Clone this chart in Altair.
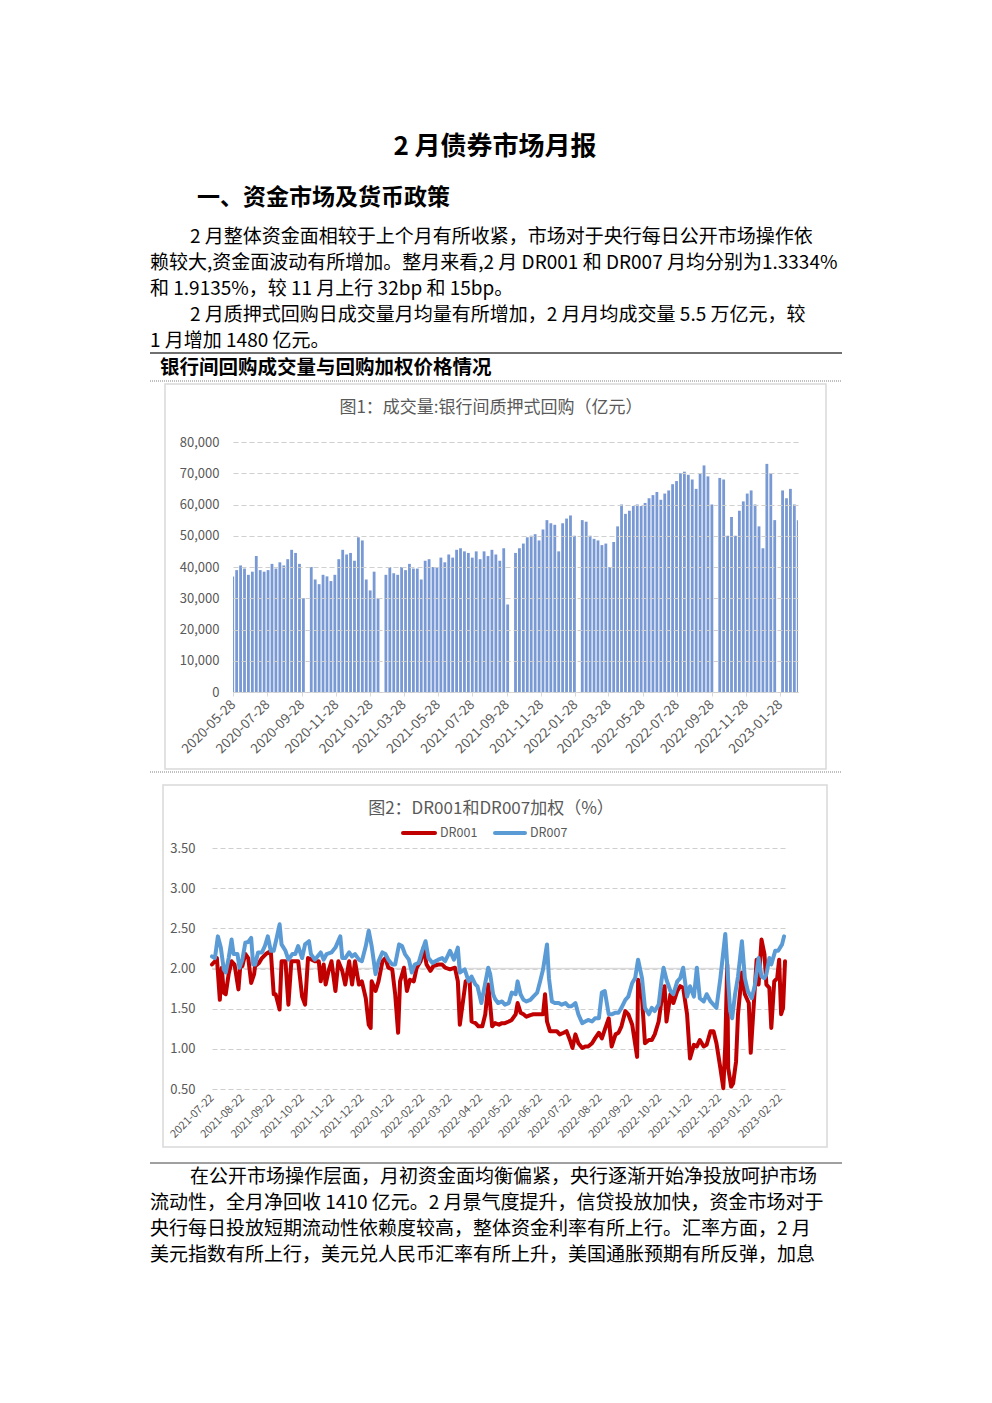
import altair as alt
import pandas as pd

FONT = "Noto Sans CJK SC"
GREY = "#595959"

# ---------------- text content ----------------
page_title = "2 月债券市场月报"
section_title = "一、资金市场及货币政策"
para1 = [
    "2 月整体资金面相较于上个月有所收紧，市场对于央行每日公开市场操作依",
    "赖较大,资金面波动有所增加。整月来看,2 月 DR001 和 DR007 月均分别为1.3334%",
    "和 1.9135%，较 11 月上行 32bp 和 15bp。",
    "2 月质押式回购日成交量月均量有所增加，2 月月均成交量 5.5 万亿元，较",
    "1 月增加 1480 亿元。",
]
box_heading = "银行间回购成交量与回购加权价格情况"
chart1_title = "图1：成交量:银行间质押式回购（亿元）"
chart2_title = "图2：DR001和DR007加权（%）"
series_names = ["DR001", "DR007"]
para2 = [
    "在公开市场操作层面，月初资金面均衡偏紧，央行逐渐开始净投放呵护市场",
    "流动性，全月净回收 1410 亿元。2 月景气度提升，信贷投放加快，资金市场对于",
    "央行每日投放短期流动性依赖度较高，整体资金利率有所上行。汇率方面，2 月",
    "美元指数有所上行，美元兑人民币汇率有所上升，美国通胀预期有所反弹，加息",
]

# ---------------- chart 1 data: weekly repo volume (亿元), weeks from 2020-05-25 ----------------
repo_volume = [
    37000, 39000, 40500, 39500, 37500, 38500, 43500, 39000, 38500, 39000,
    41000, 39500, 41500, 40500, 42500, 45500, 44500, 41000, 30000, None,
    40000, 36000, 34500, 37500, 37000, 35500, 37500, 42500, 45500, 44000,
    44500, 42000, 49500, 48500, 36000, 32500, 38500, 30000, None, 37500,
    40000, 38000, 37500, 40000, 39000, 41000, 39500, 39500, 36000, 42000,
    42500, 40000, 40000, 43000, 41500, 44000, 43000, 45500, 46000, 45000,
    44500, 43000, 45000, 42500, 45000, 43500, 45500, 44000, 42000, 46000,
    28000, None, 44500, 46000, 47500, 49500, 50000, 50500, 48500, 52000,
    55000, 54000, 53500, 45000, 54000, 55500, 56500, 50000, None, 55000,
    54500, 50000, 49000, 48500, 47000, 47500, 40000, 48000, 53000, 60000,
    57000, 58000, 59500, 60000, 59500, 60500, 62000, 63000, 64000, 61500,
    63500, 64500, 66500, 67500, 70000, 70500, 69500, 68000, 65000, 70000,
    72500, 69000, 60000, None, 68500, 68000, 50000, 56000, 50000, 58000,
    61000, 63500, 64500, 60000, 53000, 46000, 73000, 70000, 55000, None,
    64500, 62000, 65000, 60000, 55000,
]
volume_ticks = [0, 10000, 20000, 30000, 40000, 50000, 60000, 70000, 80000]
chart1_dates = ["2020-05-28", "2020-07-28", "2020-09-28", "2020-11-28", "2021-01-28",
                "2021-03-28", "2021-05-28", "2021-07-28", "2021-09-28", "2021-11-28",
                "2022-01-28", "2022-03-28", "2022-05-28", "2022-07-28", "2022-09-28",
                "2022-11-28", "2023-01-28"]

# ---------------- chart 2 data: day offsets from 2021-07-22 ----------------
dr001_day = [0, 3, 5, 8, 10, 12, 14, 17, 20, 23, 27, 29, 31, 34, 37, 40, 43, 44, 48, 51,
             55, 60, 63, 65, 69, 71, 75, 78, 81, 85, 88, 92, 95, 98, 102, 105, 109, 111, 114, 116,
             119, 122, 126, 129, 133, 136, 140, 143, 146, 150, 153, 157, 160, 162, 163, 167, 170, 174, 177, 180,
             184, 187, 190, 192, 196, 199, 202, 206, 209, 213, 216, 219, 223, 226, 231, 235, 238, 243, 248, 251,
             253, 256, 259, 263, 265, 269, 272, 276, 279, 282, 284, 286, 289, 293, 296, 299, 303, 306, 310, 312,
             315, 318, 321, 325, 328, 332, 335, 338, 340, 342, 345, 349, 352, 355, 359, 362, 366, 368, 371, 374,
             378, 381, 384, 388, 391, 395, 398, 401, 405, 408, 412, 415, 418, 422, 425, 429, 434, 435, 439, 442,
             446, 449, 452, 456, 459, 462, 464, 468, 471, 475, 478, 481, 485, 488, 492, 495, 498, 502, 505, 509,
             512, 515, 519, 522, 524, 526, 527, 530, 532, 535, 537, 541, 544, 548, 550, 553, 556, 558, 561, 564,
             566, 569, 571, 574, 577, 579, 581, 583, 585]
dr001 = [2.05, 2.09, 2.13, 1.61, 2.01, 1.70, 1.68, 1.93, 2.09, 2.05, 1.74, 2.05, 2.03, 2.18, 2.13, 1.82, 1.93, 2.03, 2.07, 2.13,
         2.18, 2.22, 1.68, 1.68, 1.49, 2.09, 2.09, 1.55, 2.09, 2.09, 2.09, 1.65, 1.55, 2.13, 2.11, 2.09, 2.09, 1.84, 2.05, 1.80,
         1.97, 2.09, 1.72, 2.09, 1.97, 1.80, 2.09, 1.80, 2.09, 1.80, 1.84, 1.63, 1.30, 1.26, 1.84, 1.72, 1.84, 2.09, 2.13, 2.01,
         1.99, 1.68, 1.20, 1.84, 2.01, 1.72, 1.86, 1.84, 2.01, 2.09, 2.26, 2.05, 1.97, 2.03, 2.05, 2.05, 2.01, 1.99, 2.01, 1.84,
         1.30, 1.57, 1.84, 1.86, 1.34, 1.32, 1.28, 1.28, 1.43, 1.80, 1.55, 1.28, 1.32, 1.30, 1.32, 1.32, 1.34, 1.36, 1.43, 1.57,
         1.45, 1.43, 1.40, 1.42, 1.43, 1.43, 1.43, 1.43, 1.68, 1.34, 1.22, 1.22, 1.22, 1.18, 1.20, 1.22, 1.09, 1.01, 1.18, 1.07,
         1.01, 1.03, 1.03, 1.07, 1.13, 1.20, 1.13, 1.24, 1.38, 1.03, 1.18, 1.20, 1.28, 1.47, 1.43, 1.30, 0.90, 1.86, 1.63, 1.07,
         1.11, 1.11, 1.18, 1.34, 1.61, 1.78, 1.34, 1.68, 1.57, 1.72, 1.78, 1.76, 1.43, 0.88, 1.05, 1.03, 1.11, 1.03, 1.05, 1.22,
         1.22, 1.07, 0.76, 0.51, 1.05, 2.05, 0.76, 0.53, 0.57, 0.84, 1.43, 1.95, 1.68, 1.57, 0.95, 1.53, 2.11, 1.80, 2.36, 2.18,
         1.80, 1.76, 1.26, 1.84, 1.88, 2.11, 1.43, 1.51, 2.09]
dr007_day = [0, 3, 6, 9, 12, 14, 17, 20, 22, 26, 28, 31, 34, 37, 40, 42, 44, 47, 51, 54,
             57, 60, 63, 66, 69, 71, 75, 78, 82, 85, 88, 92, 95, 99, 101, 105, 111, 114, 117, 122,
             126, 131, 133, 136, 140, 143, 146, 150, 153, 157, 160, 163, 167, 170, 174, 177, 180, 184, 187, 191,
             194, 197, 201, 204, 207, 211, 214, 218, 221, 225, 228, 231, 235, 238, 243, 247, 251, 253, 258, 262,
             265, 269, 271, 275, 278, 282, 284, 287, 289, 292, 296, 299, 303, 306, 310, 312, 315, 318, 321, 325,
             328, 332, 335, 338, 342, 344, 347, 350, 354, 357, 361, 364, 367, 371, 374, 378, 381, 384, 388, 391,
             395, 398, 401, 405, 408, 412, 415, 418, 422, 425, 429, 432, 435, 439, 442, 446, 449, 452, 456, 459,
             461, 464, 468, 471, 475, 478, 481, 485, 488, 492, 495, 498, 502, 505, 509, 512, 515, 519, 524, 527,
             529, 531, 534, 537, 541, 544, 547, 551, 554, 558, 561, 564, 566, 569, 571, 575, 578, 582, 584]
dr007 = [2.15, 2.13, 2.40, 2.26, 1.99, 1.95, 2.13, 2.36, 2.18, 2.18, 2.01, 2.11, 2.32, 2.33, 2.38, 2.05, 2.05, 2.20, 2.20, 2.28,
         2.40, 2.22, 2.22, 2.38, 2.55, 2.30, 2.22, 2.11, 2.18, 2.18, 2.28, 2.13, 2.30, 2.34, 2.18, 2.11, 2.20, 2.11, 2.18, 2.20,
         2.26, 2.40, 2.13, 2.13, 2.20, 2.15, 2.18, 2.11, 2.09, 2.28, 2.47, 2.28, 1.93, 2.09, 2.20, 2.18, 2.11, 2.05, 2.05, 2.30,
         2.28, 2.18, 2.11, 1.95, 2.05, 2.07, 2.20, 2.34, 2.13, 2.07, 2.09, 2.11, 2.13, 2.09, 2.22, 2.11, 2.26, 1.95, 1.99, 1.84,
         1.90, 1.80, 1.78, 1.57, 1.76, 2.01, 1.93, 1.68, 1.62, 1.57, 1.59, 1.55, 1.57, 1.70, 1.68, 1.84, 1.68, 1.61, 1.59, 1.61,
         1.65, 1.70, 1.84, 1.99, 2.30, 1.88, 1.59, 1.57, 1.57, 1.55, 1.57, 1.53, 1.53, 1.57, 1.43, 1.32, 1.34, 1.36, 1.34, 1.38,
         1.38, 1.70, 1.72, 1.43, 1.43, 1.45, 1.45, 1.51, 1.61, 1.65, 1.82, 1.88, 2.11, 1.88, 1.51, 1.43, 1.51, 1.47, 1.55, 1.86,
         2.01, 1.86, 1.72, 1.68, 1.84, 1.88, 2.01, 1.65, 1.78, 1.65, 2.01, 1.63, 1.59, 1.68, 1.59, 1.55, 1.51, 1.88, 2.43, 1.84,
         1.47, 1.38, 1.68, 1.90, 2.34, 1.88, 1.72, 1.63, 1.78, 2.13, 1.90, 1.88, 1.93, 2.13, 2.05, 2.22, 2.22, 2.30, 2.40]
rate_ticks = [0.5, 1.0, 1.5, 2.0, 2.5, 3.0, 3.5]
chart2_dates = ["2021-07-22", "2021-08-22", "2021-09-22", "2021-10-22", "2021-11-22",
                "2021-12-22", "2022-01-22", "2022-02-22", "2022-03-22", "2022-04-22",
                "2022-05-22", "2022-06-22", "2022-07-22", "2022-08-22", "2022-09-22",
                "2022-10-22", "2022-11-22", "2022-12-22", "2023-01-22", "2023-02-22"]


def dt(s):
    y, m, d = (int(p) for p in s.split("-"))
    return alt.DateTime(year=y, month=m, date=d, utc=True)


one = pd.DataFrame({"a": [0]})


def text_layer(s, x, y, size, weight="normal", align="left", color="#000000"):
    return alt.Chart(pd.DataFrame({"t": [s]})).mark_text(
        font=FONT, fontSize=size, fontWeight=weight, align=align,
        baseline="middle", color=color
    ).encode(text="t:N", x=alt.value(x), y=alt.value(y))


def hrule(x1, x2, y, color, width, dash=None, cap="butt"):
    kw = dict(color=color, strokeWidth=width, strokeCap=cap)
    if dash:
        kw["strokeDash"] = dash
    return alt.Chart(one).mark_rule(**kw).encode(
        x=alt.value(x1), x2=alt.value(x2), y=alt.value(y))


def box(x1, x2, y1, y2):
    return alt.Chart(one).mark_rect(filled=False, stroke="#d9d9d9", strokeWidth=1.5).encode(
        x=alt.value(x1), x2=alt.value(x2), y=alt.value(y1), y2=alt.value(y2))


layers = []
# frames and separators
layers += [
    box(165, 826, 384, 769),
    box(163, 827, 785, 1147),
    hrule(150, 842, 353, "#404040", 1.5),
    hrule(150, 842, 381, "#808080", 1, [1, 1]),
    hrule(150, 842, 772, "#808080", 1, [1, 1]),
    hrule(150, 842, 1163, "#404040", 1),
]
# page text
layers.append(text_layer(page_title, 495, 147, 26, "bold", "center"))
layers.append(text_layer(section_title, 197, 198, 23, "bold"))
for i, line in enumerate(para1):
    indent = 190 if i in (0, 3) else 150
    layers.append(text_layer(line, indent, 237 + 26 * i, 19))
layers.append(text_layer(box_heading, 160, 368, 19.5, "bold"))
for i, line in enumerate(para2):
    indent = 190 if i == 0 else 150
    layers.append(text_layer(line, indent, 1177 + 26 * i, 19))
# chart titles and legend
layers.append(text_layer(chart1_title, 491, 408, 17, "normal", "center", GREY))
layers.append(text_layer(chart2_title, 491, 809, 17, "normal", "center", GREY))
layers.append(hrule(403, 435, 833, "#C00000", 4, cap="round"))
layers.append(text_layer(series_names[0], 440, 833, 12.5, "normal", "left", GREY))
layers.append(hrule(495, 525, 833, "#5B9BD5", 4, cap="round"))
layers.append(text_layer(series_names[1], 530, 833, 12.5, "normal", "left", GREY))

# ---------------- chart 1: bars ----------------
weeks = pd.date_range("2020-05-25", periods=len(repo_volume), freq="7D")
first_day, last_day = pd.Timestamp("2020-05-28"), pd.Timestamp("2023-03-01")
bar_df = pd.DataFrame({
    "start": [max(w, first_day).strftime("%Y-%m-%d") for w in weeks],
    "end": [min(w + pd.Timedelta(days=5), last_day).strftime("%Y-%m-%d") for w in weeks],
    "value": repo_volume,
}).dropna()
bar_df["base"] = 0

x1_scale = alt.Scale(type="utc", domain=[dt("2020-05-28"), dt("2023-03-01")], range=[233, 798])
y1_scale = alt.Scale(domain=[0, 80000], range=[692, 442], nice=False, padding=0)

bars = alt.Chart(bar_df).mark_rect(color="#4472C4", opacity=0.72).encode(
    x=alt.X("start:T", scale=x1_scale, axis=alt.Axis(
        orient="bottom", offset=-711, values=[dt(s) for s in chart1_dates],
        labelExpr="utcFormat(datum.value, '%Y-%m-%d')", labelAngle=315,
        labelAlign="right", labelBaseline="middle", labelPadding=6,
        labelFont=FONT, labelFontSize=13.5, labelColor=GREY, labelOverlap=False,
        domain=True, domainColor="#d9d9d9", ticks=True, tickColor="#d9d9d9", tickSize=4,
        grid=False, title=None)),
    x2="end:T",
    y=alt.Y("value:Q", scale=y1_scale, axis=alt.Axis(
        orient="left", offset=-233, values=volume_ticks,
        labelExpr="format(datum.value, ',')",
        labelPadding=14, labelFont=FONT, labelFontSize=13, labelColor=GREY,
        ticks=False, domain=False, grid=True, gridDash=[5, 3], gridColor="#cfcfcf",
        gridWidth=1, title=None, zindex=1)),
    y2="base:Q",
)

# ---------------- chart 2: lines (flat layers, identical explicit scales) ----------------
base = pd.Timestamp("2021-07-22")
d1 = pd.DataFrame({"date": [(base + pd.Timedelta(days=d)).strftime("%Y-%m-%d") for d in dr001_day],
                   "rate": dr001})
d7 = pd.DataFrame({"date": [(base + pd.Timedelta(days=d)).strftime("%Y-%m-%d") for d in dr007_day],
                   "rate": dr007})


def x2_scale():
    return alt.Scale(type="utc", domain=[dt("2021-07-22"), dt("2023-02-28")], range=[212, 786])


def y2_scale():
    return alt.Scale(domain=[0.5, 3.5], range=[1089, 848], nice=False, zero=False)


axis_line = pd.DataFrame({"d0": ["2021-07-22"], "d1": ["2023-02-28"], "v": [2.0]})
rule2 = alt.Chart(axis_line).mark_rule(color="#d9d9d9", strokeWidth=1.5).encode(
    x=alt.X("d0:T", scale=x2_scale(), axis=alt.Axis(
        orient="bottom", offset=-314, values=[dt(s) for s in chart2_dates],
        labelExpr="utcFormat(datum.value, '%Y-%m-%d')", labelAngle=315,
        labelAlign="right", labelBaseline="middle", labelPadding=7,
        labelFont=FONT, labelFontSize=11, labelColor=GREY, labelOverlap=False,
        domain=False, ticks=False, grid=False, title=None)),
    x2="d1:T",
    y=alt.Y("v:Q", scale=y2_scale(), axis=alt.Axis(
        orient="left", offset=-212, values=rate_ticks,
        labelExpr="format(datum.value, '.2f')",
        labelPadding=17, labelFont=FONT, labelFontSize=13, labelColor=GREY,
        ticks=False, domain=False, grid=True, gridDash=[5, 3], gridColor="#cfcfcf",
        gridWidth=1, title=None)),
)

red = alt.Chart(d1).mark_line(color="#C00000", strokeWidth=4, strokeJoin="round", strokeCap="round").encode(
    x=alt.X("date:T", scale=x2_scale(), axis=None),
    y=alt.Y("rate:Q", scale=y2_scale(), axis=None),
)
blue = alt.Chart(d7).mark_line(color="#5B9BD5", strokeWidth=4, strokeJoin="round", strokeCap="round").encode(
    x=alt.X("date:T", scale=x2_scale(), axis=None),
    y=alt.Y("rate:Q", scale=y2_scale(), axis=None),
)

chart = alt.layer(*layers, bars, rule2, red, blue).resolve_scale(
    x="independent", y="independent"
).properties(
    width=992, height=1403, padding=0,
    autosize=alt.AutoSizeParams(type="none"),
).configure(background="white").configure_view(strokeWidth=0)

chart.save("out.html", embed_options={"renderer": "svg", "actions": False})
